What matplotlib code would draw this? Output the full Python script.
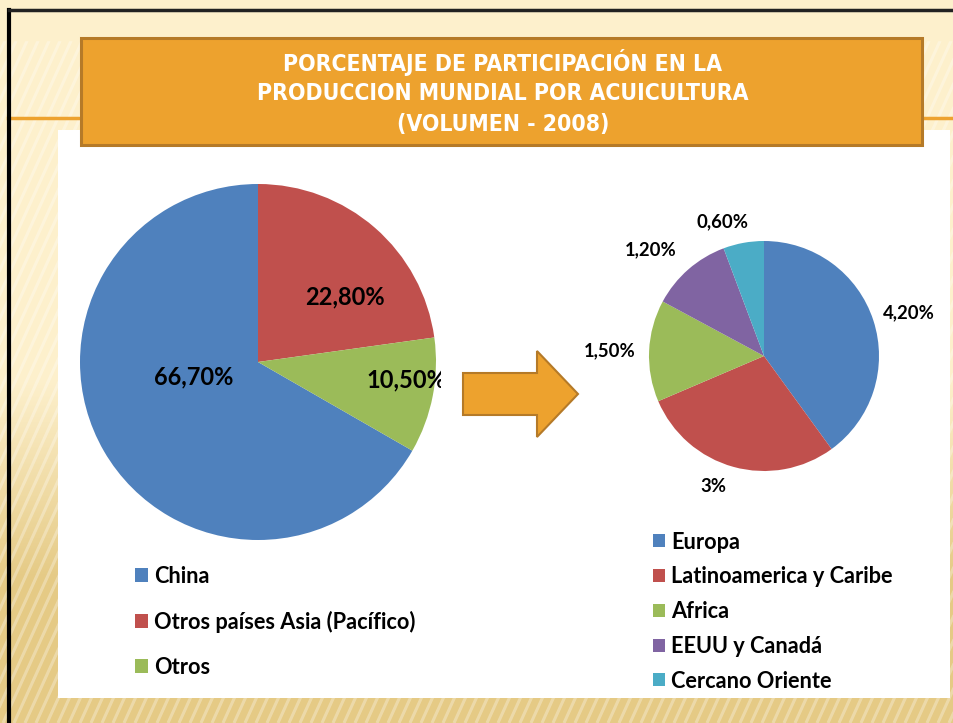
import numpy as np
import matplotlib
matplotlib.use("Agg")
import matplotlib.pyplot as plt
from matplotlib import font_manager as fm
from matplotlib.patches import Rectangle, Polygon
from matplotlib.transforms import Bbox

# datos
titulo = ["PORCENTAJE DE PARTICIPACIÓN EN LA",
          "PRODUCCION MUNDIAL POR ACUICULTURA",
          "(VOLUMEN - 2008)"]

regiones = ["China", "Otros países Asia (Pacífico)", "Otros"]
regiones_pct = [66.7, 22.8, 10.5]
regiones_txt = ["66,70%", "22,80%", "10,50%"]

otros = ["Europa", "Latinoamerica y Caribe", "Africa", "EEUU y Canadá", "Cercano Oriente"]
otros_pct = [4.2, 3.0, 1.5, 1.2, 0.6]
otros_txt = ["4,20%", "3%", "1,50%", "1,20%", "0,60%"]

colores = ["#4F81BD", "#C0504D", "#9BBB59", "#8064A2", "#4BACC6"]
naranja = "#EDA22E"
borde_naranja = "#B57A28"

W, H = 954, 723
fig = plt.figure(figsize=(W / 100, H / 100), dpi=100)
FONT = ["Lato", "DejaVu Sans"]


def fuente_estrecha():
    # busca una fuente condensada (negrita) instalada para el título
    normal = None
    for f in fm.fontManager.ttflist:
        nombre = (f.name + " " + f.fname).lower()
        if ("narrow" in nombre or "condensed" in nombre) and "oblique" not in nombre \
                and "italic" not in nombre:
            if "bold" in nombre:
                return fm.FontProperties(fname=f.fname, size=16.5)
            normal = f.fname
    if normal:
        return fm.FontProperties(fname=normal, size=18)
    return fm.FontProperties(family="Liberation Sans", weight="bold", size=15.5)


# fondo en coordenadas de pixel
bg = fig.add_axes([0, 0, 1, 1])
bg.set_xlim(0, W)
bg.set_ylim(H, 0)
bg.axis("off")

crema = np.array([0xFD, 0xF0, 0xCC]) / 255
tostado = np.array([0xE5, 0xCA, 0x85]) / 255
yy = np.linspace(0, 1, H)
t = np.clip((yy * H - 380) / 200, 0, 1)[:, None]
grad = crema[None, :] * (1 - t) + tostado[None, :] * t
img = np.repeat(grad[:, None, :], W, axis=1)
bg.imshow(img, extent=(0, W, H, 0), aspect="auto", zorder=0)

# rayas diagonales
for x0 in range(-800, W + 200, 11):
    bg.plot([x0, x0 + 700], [H, H - 700 * 2.2], color="white", alpha=0.3,
            lw=2.2, zorder=1, solid_capstyle="butt")
bg.add_patch(Rectangle((0, 0), W, 40, color=crema, zorder=1.5))

# borde negro
bg.plot([9, 9], [H, 10], color="black", lw=3, zorder=5)
bg.plot([9, W], [10, 10], color="#222222", lw=2.5, zorder=5)

# panel blanco y línea naranja
bg.plot([8, W], [118, 118], color=naranja, lw=2.5, zorder=2)
bg.add_patch(Rectangle((58, 130), 892, 568, facecolor="white", edgecolor="none", zorder=3))

# caja del título
bg.add_patch(Rectangle((81, 38), 841, 107, facecolor=naranja, edgecolor=borde_naranja,
                       lw=2.2, zorder=4))
fp_titulo = fuente_estrecha()
for i, linea in enumerate(titulo):
    bg.text(503, 62 + i * 31.5, linea, ha="center", va="center", color="white",
            fontproperties=fp_titulo, zorder=6)

# flecha
flecha = [(463, 373), (537, 373), (537, 351), (578, 394), (537, 437), (537, 415), (463, 415)]
bg.add_patch(Polygon(flecha, closed=True, facecolor=naranja, edgecolor=borde_naranja,
                     lw=1.5, zorder=4))


def px_axes(cx, cy, r):
    return fig.add_axes([(cx - r) / W, (H - cy - r) / H, 2 * r / W, 2 * r / H])


# pastel principal
ax1 = px_axes(258, 362, 178)
ini = 90 + regiones_pct[0] / 100 * 360
w1, _ = ax1.pie(regiones_pct, colors=colores[:3], startangle=ini, counterclock=False,
                wedgeprops=dict(linewidth=0))
ax1.set_xlim(-1, 1)
ax1.set_ylim(-1, 1)
pos1 = [(0.37, 193), (0.61, 37), (0.84, -7)]
for txt, (r, ang) in zip(regiones_txt, pos1):
    a = np.deg2rad(ang)
    tx = ax1.text(r * np.cos(a), r * np.sin(a), txt, ha="center", va="center",
                  fontsize=17, fontweight="bold", family=FONT)
    tx.set_clip_on(True)
    tx.set_clip_box(Bbox.from_extents(0, 0, 441, H))

ax1.legend(w1, regiones, loc="upper left", bbox_to_anchor=(115 / W, 1 - 546 / H),
           bbox_transform=fig.transFigure, frameon=False, handlelength=0.6,
           handleheight=0.6, handletextpad=0.3, labelspacing=1.11,
           prop=dict(family=FONT, weight="bold", size=15.7))

# pastel de otros
ax2 = px_axes(764, 356, 115)
w2, _ = ax2.pie(otros_pct, colors=colores, startangle=90, counterclock=False,
                wedgeprops=dict(linewidth=0))
ax2.set_xlim(-1, 1)
ax2.set_ylim(-1, 1)
pos2 = [(1.31, 16.6), (1.22, -111), (1.34, 178), (1.35, 137), (1.22, 107)]
for txt, (r, ang) in zip(otros_txt, pos2):
    a = np.deg2rad(ang)
    ax2.text(r * np.cos(a), r * np.sin(a), txt, ha="center", va="center",
             fontsize=13.3, fontweight="bold", family=FONT)

ax2.legend(w2, otros, loc="upper left", bbox_to_anchor=(633 / W, 1 - 512 / H),
           bbox_transform=fig.transFigure, frameon=False, handlelength=0.55,
           handleheight=0.55, handletextpad=0.3, labelspacing=0.63,
           prop=dict(family=FONT, weight="bold", size=15.7))

fig.savefig("out.png", dpi=100)
